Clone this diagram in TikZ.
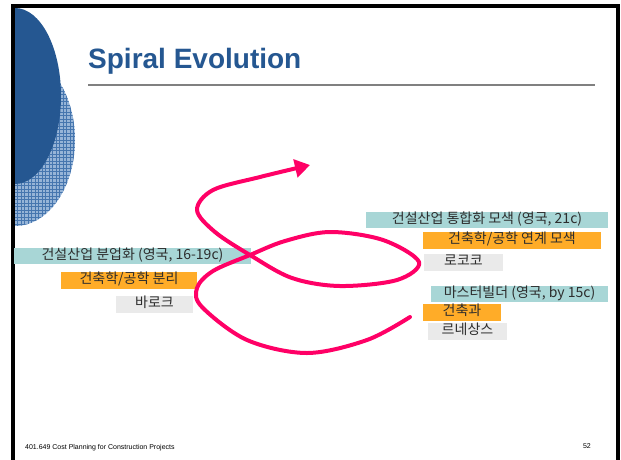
\documentclass[tikz,border=0pt]{standalone}
\usepackage{fontspec}
\setmainfont{Liberation Sans}
\newfontfamily\krfont{Noto Sans CJK KR}
\usetikzlibrary{arrows.meta}

\definecolor{titleblue}{RGB}{37,87,145}
\definecolor{hatchblue}{RGB}{150,180,215}
\definecolor{gridblue}{RGB}{70,118,175}
\definecolor{tealbg}{RGB}{168,214,214}
\definecolor{orangebg}{RGB}{255,172,40}
\definecolor{graybg}{RGB}{234,234,234}
\definecolor{txtgray}{RGB}{45,45,45}
\definecolor{spiralred}{RGB}{255,0,102}

\begin{document}
\begin{tikzpicture}[x=1pt,y=-1pt,
  krtext/.style={font=\krfont\fontsize{14}{16}\selectfont, text=txtgray, inner sep=0pt, text height=1.5ex, text depth=.3ex},
  tealbox/.style={krtext, fill=tealbg, minimum height=16pt},
  orangebox/.style={krtext, fill=orangebg, minimum height=17pt},
  graybox/.style={krtext, fill=graybg, minimum height=17pt},
  spiral/.style={draw=spiralred, line width=4pt, line cap=round, line join=round},
]
\useasboundingbox (0,0) rectangle (621,459);

% side decoration
\begin{scope}
  \clip (15,0) rectangle (120,459);
  \begin{scope}
    \clip (15,140) ellipse [x radius=60, y radius=86];
    \fill[hatchblue] (0,40) rectangle (90,240);
    \draw[gridblue, line width=0.5pt, step=3.5pt] (0,40) grid (90,240);
  \end{scope}
  \fill[titleblue] (15,96) ellipse [x radius=46, y radius=88];
\end{scope}

% frame
\draw[line width=3.5pt] (13,470) -- (13,6) -- (618,6) -- (618,470);

% title
\node[anchor=base west, inner sep=0pt, text=titleblue, font=\bfseries\fontsize{28}{32}\selectfont] (title) at (88,68) {Spiral Evolution};
\draw[gray, line width=2pt] (88,85) -- (595,85);

% left group
\node[tealbox, minimum width=237pt] (split) at (132.5,256) {건설산업 분업화 (영국, 16-19c)};
\node[orangebox, minimum width=136pt] (sep) at (129,280.5) {건축학/공학 분리};
\node[graybox, minimum width=77pt] (baroque) at (154.5,304) {바로크};

% right group, upper
\node[tealbox, minimum width=242pt] (merge) at (487,220) {건설산업 통합화 모색 (영국, 21c)};
\node[orangebox, minimum width=178pt] (link) at (512,240.5) {건축학/공학 연계 모색};
\node[graybox, minimum width=79pt] (rococo) at (463.5,262.5) {로코코};

% right group, lower
\node[tealbox, minimum width=177pt] (master) at (519.5,294) {마스터빌더 (영국, by 15c)};
\node[orangebox, minimum width=78pt] (arch) at (462,312.5) {건축과};
\node[graybox, minimum width=79pt] (renaissance) at (467.5,331.5) {르네상스};

% spiral
\draw[spiral, -{Triangle[length=15pt,width=18pt]}] plot[smooth, tension=0.55] coordinates {
  (410,317) (367,340) (307,353) (247,340) (202,307) (197,288) (213,271) (250,255)
  (285,241) (330,232) (383,240) (419,262) (397,280) (340,286) (292,278) (250,255)
  (215,232) (197,210) (213,190) (260,177) (310,165)};

% footer
\node[anchor=base west, inner sep=0pt, font=\fontsize{7}{8}\selectfont] (course) at (25,449) {401.649 Cost Planning for Construction Projects};
\node[anchor=base east, inner sep=0pt, font=\fontsize{7}{8}\selectfont] (page) at (591,448) {52};
\end{tikzpicture}
\end{document}
